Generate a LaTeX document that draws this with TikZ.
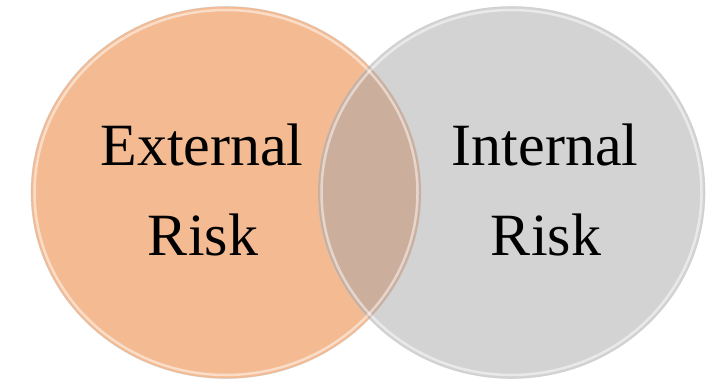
\documentclass[tikz,border=0pt]{standalone}
\usepackage{fontspec}
\setmainfont{Liberation Serif}
\definecolor{peach}{RGB}{244,187,147}
\definecolor{silver}{RGB}{211,211,211}
\definecolor{mixcol}{RGB}{204,174,156}
\begin{document}
\begin{tikzpicture}[x=1pt,y=-1pt,
  lbl/.style={font=\fontsize{60}{72}\selectfont, inner sep=0pt, anchor=base, text=black},
  rim/.style={draw=white, line width=2.5pt, opacity=0.5},
  edge/.style={draw=black!25, line width=0.6pt, opacity=0.5}]
\useasboundingbox (0,0) rectangle (708,383);
\fill[peach] (226,192.5) ellipse [x radius=195, y radius=186];
\fill[silver] (511.5,192.5) ellipse [x radius=193.5, y radius=186];
\begin{scope}
  \clip (226,192.5) ellipse [x radius=195, y radius=186];
  \fill[mixcol] (511.5,192.5) ellipse [x radius=193.5, y radius=186];
\end{scope}
\draw[rim] (226,192.5) ellipse [x radius=191.5, y radius=182.5];
\draw[rim] (511.5,192.5) ellipse [x radius=190, y radius=182.5];
\draw[edge] (226,192.5) ellipse [x radius=195, y radius=186];
\draw[edge] (511.5,192.5) ellipse [x radius=193.5, y radius=186];
\node[lbl] (ext1) at (202,165) {External};
\node[lbl] (ext2) at (203,255) {Risk};
\node[lbl] (int1) at (545,165) {Internal};
\node[lbl] (int2) at (546,255) {Risk};
\end{tikzpicture}
\end{document}
